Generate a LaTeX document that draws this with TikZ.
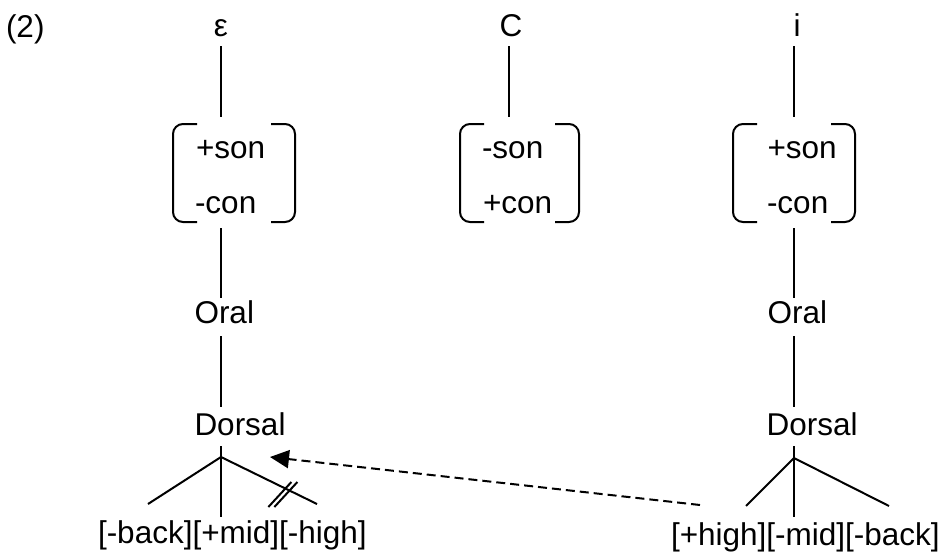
\documentclass[tikz,border=0pt]{standalone}
\usepackage{fontspec}
\setmainfont{Liberation Sans}
\usetikzlibrary{calc}
\usetikzlibrary{arrows.meta}

\begin{document}
\begin{tikzpicture}[x=1pt,y=-1pt,line width=2pt,
		lab/.style={inner sep=0pt,anchor=base west,font=\fontsize{31.5}{37}\selectfont},
		seg/.style={inner sep=0pt,anchor=base,font=\fontsize{31.5}{37}\selectfont},
		mat/.style={inner sep=0pt,minimum height=96pt},
		brk/.style={rounded corners=10pt}]
		\useasboundingbox (0,0) rectangle (945,552);
		% spine of each column
		\coordinate (spL) at (221,0);
		\coordinate (spC) at (509,0);
		\coordinate (spR) at (794,0);

		\node[lab] (num) at (5,37) {(2)};
		\node[seg] (eps) at (221,36) {ε};
		\node[seg] (cons) at (511,36) {C};
		\node[seg] (hi) at (797,36) {i};

		% feature matrices
		\node[mat,minimum width=120pt] (fmL) at (234,173) {};
		\node[mat,minimum width=117pt] (fmC) at (519.5,173) {};
		\node[mat,minimum width=120pt] (fmR) at (794,173) {};
		\foreach \m in {fmL,fmC,fmR} {
			\draw[brk] ([xshift=24pt]\m.north west) -- (\m.north west) -- (\m.south west) -- ([xshift=24pt]\m.south west);
			\draw[brk] ([xshift=-24pt]\m.north east) -- (\m.north east) -- (\m.south east) -- ([xshift=-24pt]\m.south east);
		}
		\node[lab] (sonL) at (195,158) {+son};
		\node[lab] (conL) at (194,213) {-con};
		\node[lab] (sonC) at (481,158) {-son};
		\node[lab] (conC) at (482,213) {+con};
		\node[lab] (sonR) at (766.5,158) {+son};
		\node[lab] (conR) at (766,213) {-con};

		\node[lab] (oralL) at (193.5,323) {Oral};
		\node[lab] (dorsL) at (193.5,435) {Dorsal};
		\node[lab] (oralR) at (766.5,323) {Oral};
		\node[lab] (dorsR) at (765.5,435) {Dorsal};

		\node[lab] (featL) at (97,543) {[-back][+mid][-high]};
		\node[lab] (featR) at (670,545) {[+high][-mid][-back]};

		% association lines
		\draw[shorten <=9pt,shorten >=7pt] (eps.south -| spL) -- (fmL.north -| spL);
		\draw[shorten <=9pt,shorten >=7pt] (cons.south -| spC) -- (fmC.north -| spC);
		\draw[shorten <=9pt,shorten >=7pt] (hi.south -| spR) -- (fmR.north -| spR);
		\draw[shorten <=6pt,shorten >=1pt] (fmL.south -| spL) -- (oralL.north -| spL);
		\draw[shorten <=6pt,shorten >=1pt] (fmR.south -| spR) -- (oralR.north -| spR);
		\draw[shorten <=12pt,shorten >=4pt] (oralL.south -| spL) -- (dorsL.north -| spL);
		\draw[shorten <=12pt,shorten >=4pt] (oralR.south -| spR) -- (dorsR.north -| spR);

		% vowel features under Dorsal
		\coordinate (apL) at (221,457);
		\coordinate (lfL1) at (148,504);
		\coordinate (lfL2) at (221,517);
		\coordinate (lfL3) at (317,504);
		\coordinate (apR) at (794,458);
		\coordinate (lfR1) at (746,506);
		\coordinate (lfR2) at (794,517);
		\coordinate (lfR3) at (889,506);
		\draw[shorten <=10pt] (dorsL.south -| spL) -- (apL);
		\draw[shorten <=10pt] (dorsR.south -| spR) -- (apR);
		\foreach \l in {1,2,3} {
			\draw (apL) -- (lfL\l);
			\draw (apR) -- (lfR\l);
		}
		% delinked [-high]
		\coordinate (cut) at ($(apL)!0.66!(lfL3)$);
		\foreach \s in {0,6}
			\draw ($(cut)+(-16+\s,19)$) -- ++(23,-25);

		% spreading
		\coordinate (dsrc) at (700,505);
		\coordinate (dtip) at (270,457);
		\draw[dash pattern=on 9pt off 5pt,-{Triangle[length=19pt,width=18pt]}] (dsrc) -- (dtip);
	\end{tikzpicture}
\end{document}
